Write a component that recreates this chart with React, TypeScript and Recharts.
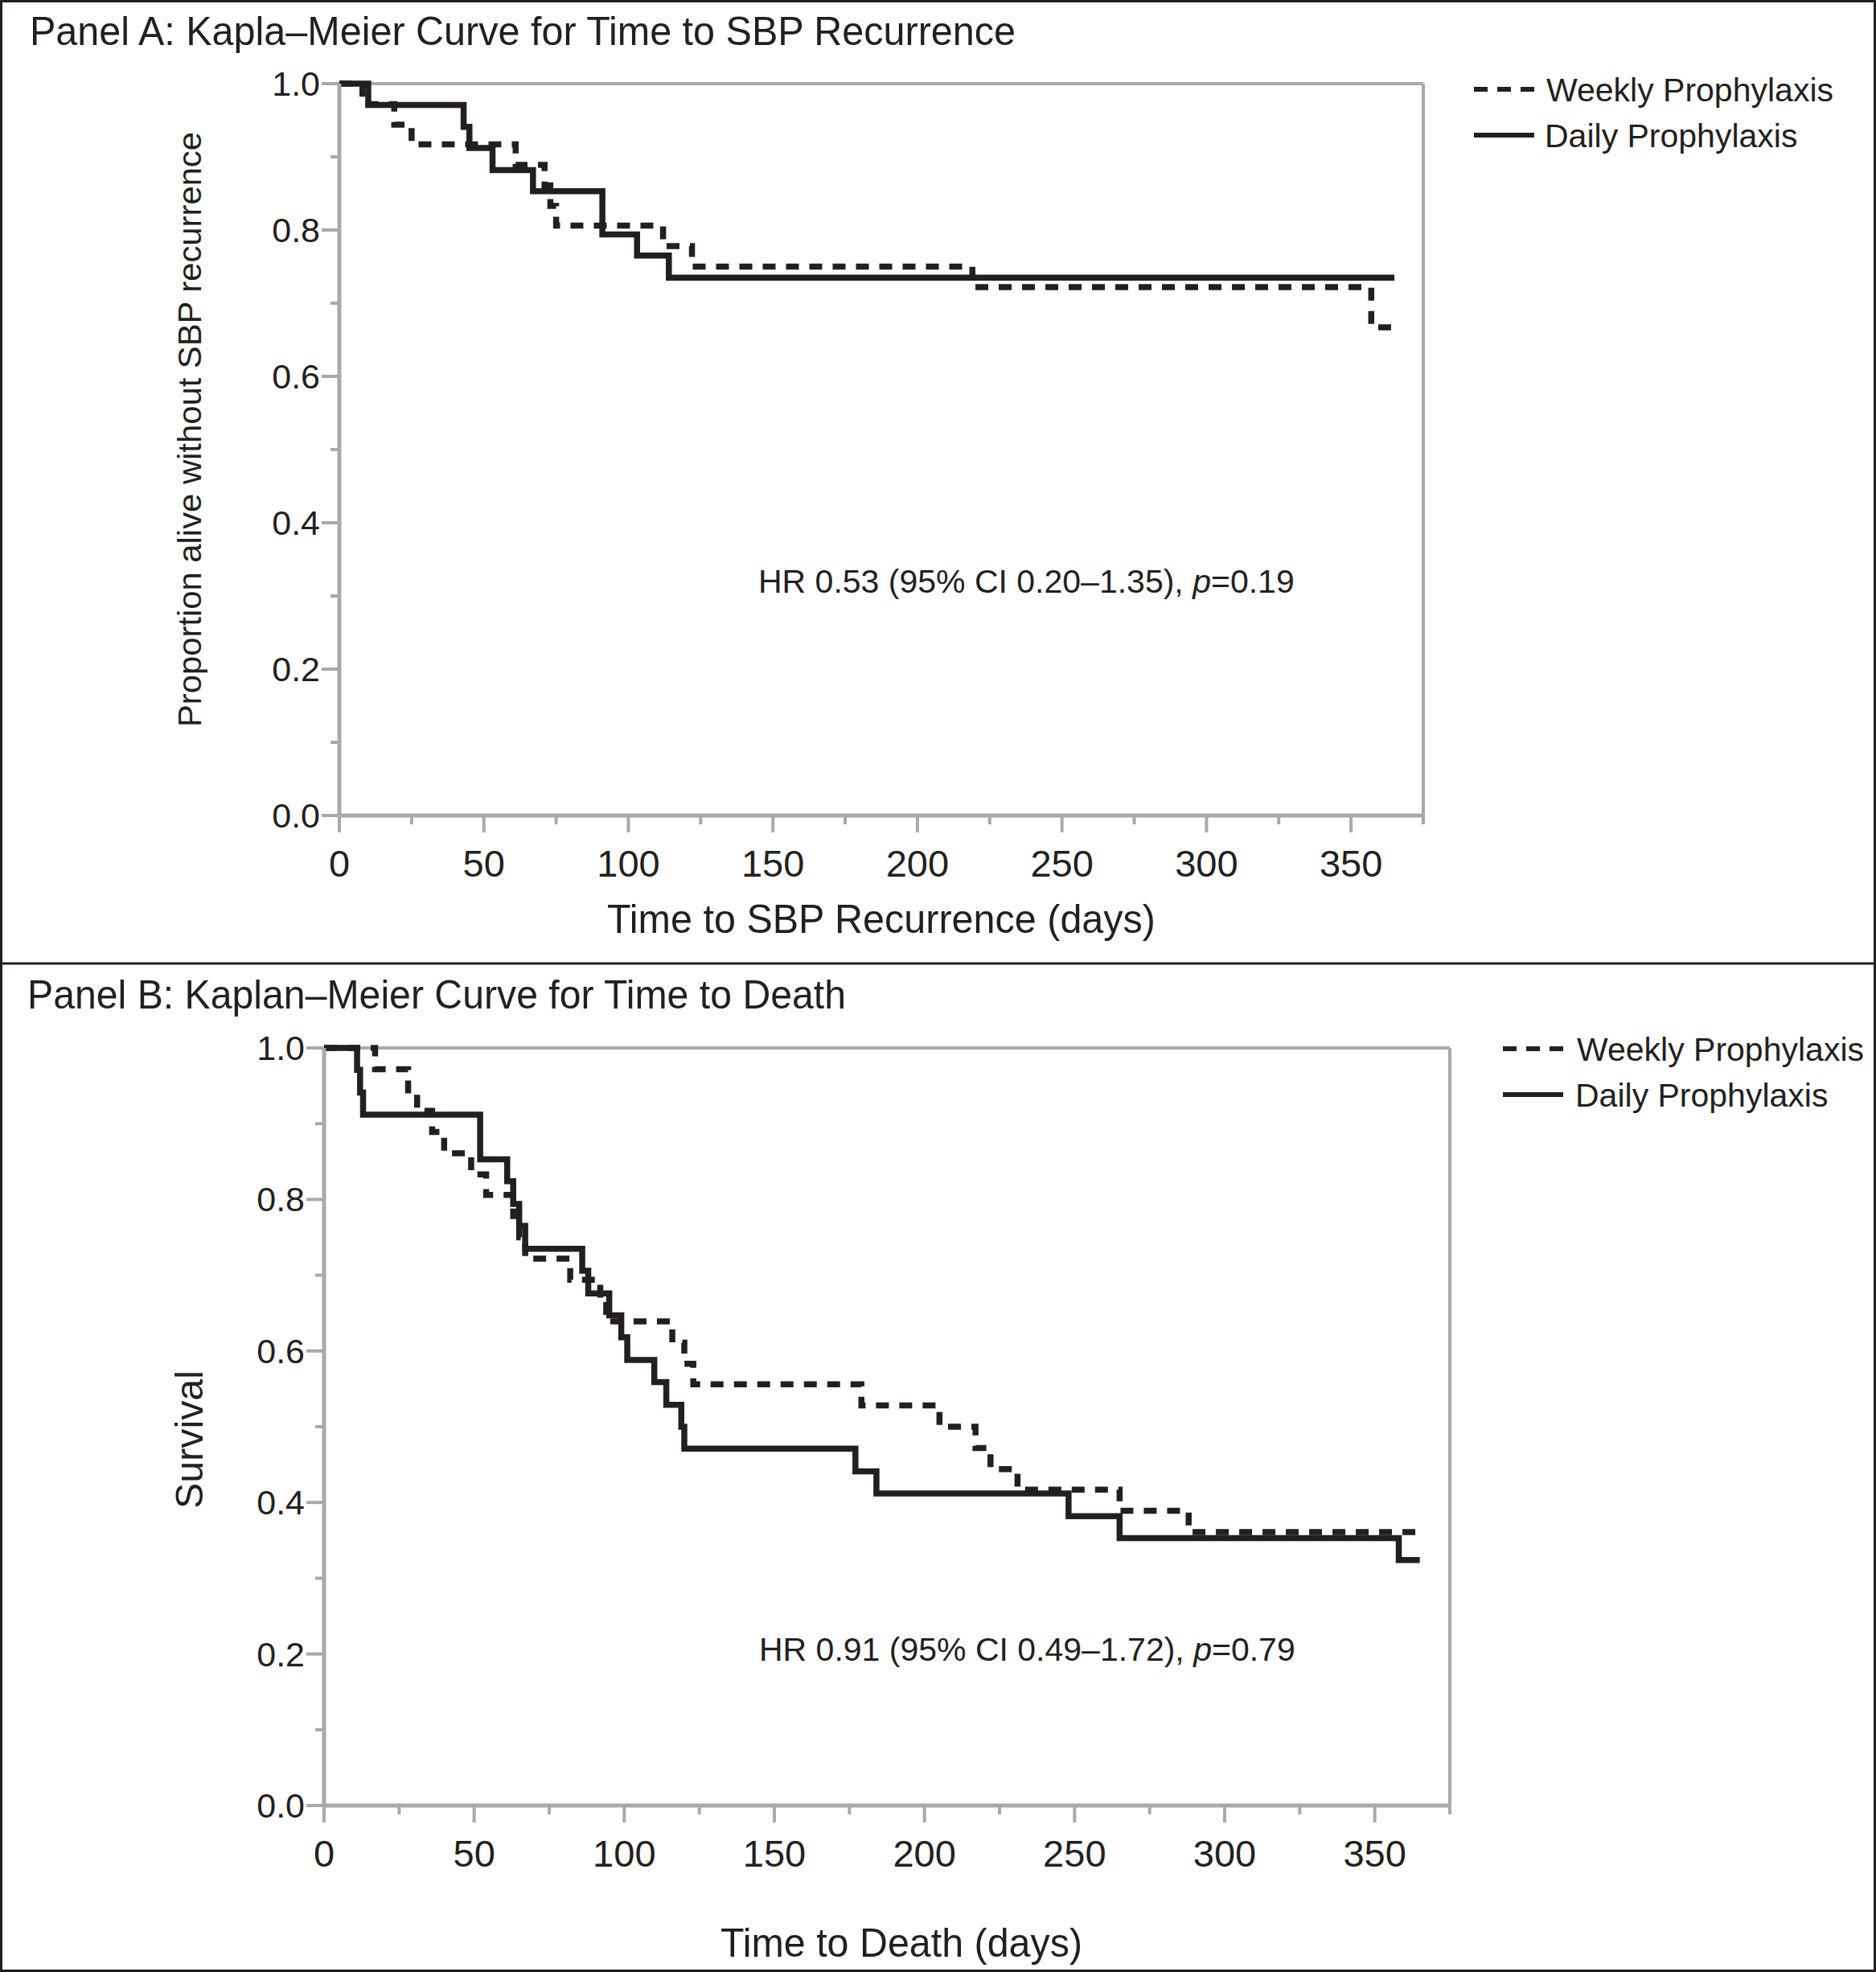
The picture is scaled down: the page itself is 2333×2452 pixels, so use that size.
import React from 'react'
import { LineChart, Line, XAxis, YAxis, ReferenceLine } from 'recharts'

// Panel A: time to SBP recurrence (days, proportion free of recurrence)
const weeklyATimes = [0, 8, 19, 25, 61, 71, 73, 75, 112, 122, 219, 357, 364]
const weeklyASurv = [1, 0.972, 0.944, 0.917, 0.889, 0.861, 0.833, 0.806, 0.778, 0.75, 0.722, 0.667, 0.667]
const dailyATimes = [0, 10, 43, 45, 53, 67, 91, 103, 114, 365]
const dailyASurv = [1, 0.971, 0.941, 0.912, 0.882, 0.853, 0.794, 0.765, 0.735, 0.735]

// Panel B: time to death
const weeklyBTimes = [0, 17, 28, 31, 36, 40, 49, 54, 63, 65, 67, 82, 92, 94, 116, 120, 123, 179, 205, 217, 222, 231, 265, 288, 365]
const weeklyBSurv = [1, 0.972, 0.944, 0.917, 0.889, 0.861, 0.833, 0.806, 0.778, 0.75, 0.722, 0.694, 0.667, 0.639, 0.611, 0.583, 0.556, 0.528, 0.5, 0.472, 0.444, 0.417, 0.389, 0.361, 0.361]
const dailyBTimes = [0, 11, 12, 13, 52, 61, 63, 65, 67, 86, 88, 95, 99, 101, 110, 114, 119, 120, 177, 184, 248, 265, 358, 365]
const dailyBSurv = [1, 0.971, 0.941, 0.912, 0.853, 0.824, 0.794, 0.765, 0.735, 0.706, 0.676, 0.647, 0.618, 0.588, 0.559, 0.529, 0.5, 0.471, 0.441, 0.412, 0.382, 0.353, 0.324, 0.324]

const xTicks = [0, 25, 50, 75, 100, 125, 150, 175, 200, 225, 250, 275, 300, 325, 350, 375]
const xLabelTicks = [0, 50, 100, 150, 200, 250, 300, 350]
const yTicks = [0, 0.1, 0.2, 0.3, 0.4, 0.5, 0.6, 0.7, 0.8, 0.9, 1]
const yLabelTicks = [0, 0.2, 0.4, 0.6, 0.8, 1]

const seriesNames = ['Weekly Prophylaxis', 'Daily Prophylaxis']

const FONT = '"Liberation Sans", Arial, Helvetica, sans-serif'
const INK = '#231f20'
const AXIS = '#a7a9ac'
const DASH = '16 13'

const zip = (t: number[], s: number[]) => t.map((v, i) => ({ t: v, s: s[i] }))

const isLabel = (list: number[], v: number) => list.some((l) => Math.abs(l - v) < 1e-6)

const XTick = (props: any) => {
    const { x, y, payload } = props
    const major = isLabel(xLabelTicks, payload.value)
    return (
        <g>
            <line x1={x} y1={y} x2={x} y2={y + (major ? 21 : 11)} stroke={AXIS} strokeWidth={4} />
            {major && (
                <text x={x} y={y + 76} textAnchor="middle" fontFamily={FONT} fontSize={47} fill={INK}>
                    {payload.value}
                </text>
            )}
        </g>
    )
}

const YTick = (props: any) => {
    const { x, y, payload } = props
    const major = isLabel(yLabelTicks, payload.value)
    return (
        <g>
            <line x1={x - (major ? 22 : 11)} y1={y} x2={x} y2={y} stroke={AXIS} strokeWidth={4} />
            {major && (
                <text x={x - 24} y={y + 15} textAnchor="end" fontFamily={FONT} fontSize={43} fill={INK}>
                    {payload.value.toFixed(1)}
                </text>
            )}
        </g>
    )
}

interface PanelProps {
    top: number
    height: number
    margin: { top: number; right: number; bottom: number; left: number }
    weekly: { t: number; s: number }[]
    daily: { t: number; s: number }[]
}

function KMPanel({ top, height, margin, weekly, daily }: PanelProps) {
    return (
        <div style={{ position: 'absolute', left: 0, top }}>
            <LineChart width={1850} height={height} margin={margin}>
                <XAxis
                    type="number"
                    dataKey="t"
                    domain={[0, 375]}
                    ticks={xTicks}
                    interval={0}
                    tickSize={0}
                    tickMargin={0}
                    height={60}
                    tick={<XTick />}
                    axisLine={{ stroke: AXIS, strokeWidth: 5 }}
                    tickLine={false}
                />
                <YAxis
                    type="number"
                    domain={[0, 1]}
                    ticks={yTicks}
                    interval={0}
                    tickSize={0}
                    tickMargin={0}
                    width={60}
                    tick={<YTick />}
                    axisLine={{ stroke: AXIS, strokeWidth: 5 }}
                    tickLine={false}
                />
                <ReferenceLine y={1} stroke={AXIS} strokeWidth={4} />
                <ReferenceLine x={375} stroke={AXIS} strokeWidth={4} />
                <Line
                    data={daily}
                    dataKey="s"
                    type="stepAfter"
                    stroke={INK}
                    strokeWidth={7.5}
                    dot={false}
                    isAnimationActive={false}
                />
                <Line
                    data={weekly}
                    dataKey="s"
                    type="stepAfter"
                    stroke={INK}
                    strokeWidth={7.5}
                    strokeDasharray={DASH}
                    dot={false}
                    isAnimationActive={false}
                />
            </LineChart>
        </div>
    )
}

function Legend({ x, y, textX }: { x: number; y: number; textX: number }) {
    return (
        <g>
            <line x1={x} y1={y} x2={x + 75} y2={y} stroke={INK} strokeWidth={6} strokeDasharray="17 12" />
            <text x={textX} y={y + 15} fontFamily={FONT} fontSize={41} fill={INK}>{seriesNames[0]}</text>
            <line x1={x} y1={y + 57} x2={x + 75} y2={y + 57} stroke={INK} strokeWidth={6} />
            <text x={textX - 2} y={y + 72} fontFamily={FONT} fontSize={41} fill={INK}>{seriesNames[1]}</text>
        </g>
    )
}

export default function App() {
    return (
        <div style={{ position: 'absolute', left: 0, top: 0, width: 2333, height: 2452, background: '#fff' }}>
            <KMPanel
                top={0}
                height={1100}
                margin={{ top: 104, right: 80, bottom: 26, left: 362 }}
                weekly={zip(weeklyATimes, weeklyASurv)}
                daily={zip(dailyATimes, dailyASurv)}
            />
            <KMPanel
                top={1200}
                height={1180}
                margin={{ top: 103, right: 47, bottom: 75, left: 343 }}
                weekly={zip(weeklyBTimes, weeklyBSurv)}
                daily={zip(dailyBTimes, dailyBSurv)}
            />
            <svg width={2333} height={2452} style={{ position: 'absolute', left: 0, top: 0, pointerEvents: 'none' }}>
                <rect x={1.5} y={1.5} width={2330} height={2449} fill="none" stroke={INK} strokeWidth={3} />
                <line x1={0} y1={1198} x2={2333} y2={1198} stroke={INK} strokeWidth={3} />

                <text x={37} y={56} fontFamily={FONT} fontSize={50} fill={INK} textLength={1226} lengthAdjust="spacingAndGlyphs">
                    Panel A: Kapla–Meier Curve for Time to SBP Recurrence
                </text>
                <Legend x={1833} y={111} textX={1923} />
                <text x={943} y={737} fontFamily={FONT} fontSize={41} fill={INK}>
                    HR 0.53 (95% CI 0.20–1.35), <tspan fontStyle="italic">p</tspan>=0.19
                </text>
                <text x={250} y={534} transform="rotate(-90 250 534)" textAnchor="middle" fontFamily={FONT} fontSize={41.5} fill={INK} textLength={740} lengthAdjust="spacingAndGlyphs">
                    Proportion alive without SBP recurrence
                </text>
                <text x={1096} y={1160} textAnchor="middle" fontFamily={FONT} fontSize={50} fill={INK} textLength={682} lengthAdjust="spacingAndGlyphs">
                    Time to SBP Recurrence (days)
                </text>

                <text x={34} y={1254} fontFamily={FONT} fontSize={50} fill={INK} textLength={1018} lengthAdjust="spacingAndGlyphs">
                    Panel B: Kaplan–Meier Curve for Time to Death
                </text>
                <Legend x={1869} y={1304} textX={1961} />
                <text x={944} y={2065} fontFamily={FONT} fontSize={41} fill={INK}>
                    HR 0.91 (95% CI 0.49–1.72), <tspan fontStyle="italic">p</tspan>=0.79
                </text>
                <text x={252} y={1790} transform="rotate(-90 252 1790)" textAnchor="middle" fontFamily={FONT} fontSize={48} fill={INK} textLength={172} lengthAdjust="spacingAndGlyphs">
                    Survival
                </text>
                <text x={1121} y={2433} textAnchor="middle" fontFamily={FONT} fontSize={50} fill={INK} textLength={450} lengthAdjust="spacingAndGlyphs">
                    Time to Death (days)
                </text>
            </svg>
        </div>
    )
}
